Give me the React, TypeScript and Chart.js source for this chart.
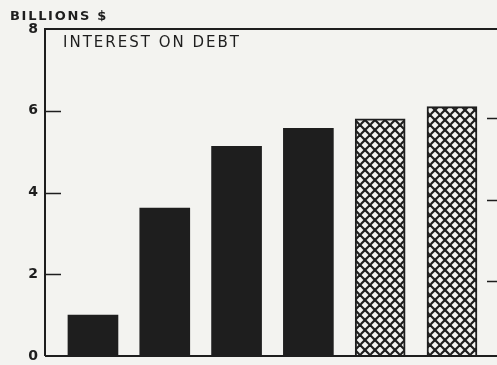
import React, { useEffect, useRef } from "react";
import { Chart, registerables } from "chart.js";

Chart.register(...registerables);

// Data
const positions = [0, 1, 2, 3, 4, 5];
const interest = [1.0, 3.62, 5.13, 5.57, 5.8, 6.1];
const projected = [false, false, false, false, true, true];
const yTicks = [0, 2, 4, 6, 8];
const innerTicks = [2, 4, 6];
const unitLabel = "BILLIONS $";
const titleText = "INTEREST ON DEBT";

const PAPER = "#f3f3f0";
const INK = "#1e1e1e";
const W = 497;
const H = 365;

function makeHatch(): CanvasPattern | string {
  const c = document.createElement("canvas");
  c.width = 10;
  c.height = 10;
  const g = c.getContext("2d");
  if (!g) return INK;
  g.fillStyle = PAPER;
  g.fillRect(0, 0, 10, 10);
  g.strokeStyle = INK;
  g.lineWidth = 2.2;
  for (const k of [-15, -5, 5, 15, 25]) {
    g.beginPath();
    g.moveTo(-10, k + 10);
    g.lineTo(20, k - 20);
    g.stroke();
    g.beginPath();
    g.moveTo(-10, -10 - k);
    g.lineTo(20, 20 - k);
    g.stroke();
  }
  const p = g.createPattern(c, "repeat");
  return p || INK;
}

const framePlugin = {
  id: "frame",
  afterDraw(chart: any) {
    const { ctx, chartArea } = chart;
    const y = chart.scales.y;
    const { left, right, top, bottom } = chartArea;
    ctx.save();
    ctx.strokeStyle = INK;
    ctx.lineWidth = 2;
    ctx.beginPath();
    ctx.moveTo(left, bottom);
    ctx.lineTo(left, top);
    ctx.lineTo(right, top);
    ctx.moveTo(left, bottom);
    ctx.lineTo(right, bottom);
    ctx.stroke();
    ctx.lineWidth = 1.6;
    for (const v of innerTicks) {
      const py = Math.round(y.getPixelForValue(v)) + 0.5;
      ctx.beginPath();
      ctx.moveTo(left, py);
      ctx.lineTo(left + 16, py);
      ctx.moveTo(right - 10, py + 7);
      ctx.lineTo(right, py + 7);
      ctx.stroke();
    }
    ctx.fillStyle = INK;
    ctx.textBaseline = "alphabetic";
    ctx.textAlign = "left";
    ctx.font = "bold 13px 'DejaVu Sans'";
    (ctx as any).letterSpacing = "1.7px";
    ctx.fillText(unitLabel, 10, 20);
    ctx.font = "15px 'DejaVu Sans'";
    (ctx as any).letterSpacing = "2px";
    ctx.fillText(titleText, left + 18, top + 18);
    ctx.restore();
  },
};

export default function App() {
  const ref = useRef<HTMLCanvasElement | null>(null);

  useEffect(() => {
    if (!ref.current) return;
    const hatch = makeHatch();
    const chart = new Chart(ref.current, {
      type: "bar",
      data: {
        datasets: [
          {
            data: positions.map((x, i) => ({ x, y: interest[i] })),
            backgroundColor: projected.map((p) => (p ? hatch : INK)),
            borderColor: INK,
            borderWidth: projected.map((p) => (p ? 2 : 0)),
            barThickness: 50,
          } as any,
        ],
      },
      options: {
        animation: false,
        responsive: false,
        devicePixelRatio: 1,
        layout: { padding: { top: 29, bottom: 9, left: 0, right: 0 } },
        plugins: { legend: { display: false }, tooltip: { enabled: false } },
        scales: {
          x: {
            type: "linear",
            min: -0.668,
            max: 5.627,
            offset: false,
            bounds: "ticks",
            display: false,
          },
          y: {
            min: 0,
            max: 8,
            afterBuildTicks: (s: any) => {
              s.ticks = yTicks.map((v) => ({ value: v }));
            },
            afterFit: (s: any) => {
              s.width = 45;
              s.paddingTop = 0;
              s.paddingBottom = 0;
            },
            ticks: {
              font: { family: "'DejaVu Sans'", size: 14, weight: "bold" },
              color: INK,
              padding: 7,
            },
            grid: { display: false, drawTicks: false },
            border: { display: false },
          },
        },
      } as any,
      plugins: [framePlugin],
    });
    return () => chart.destroy();
  }, []);

  return (
    <div
      style={{
        position: "fixed",
        left: 0,
        top: 0,
        width: W,
        height: H,
        background: PAPER,
        overflow: "hidden",
      }}
    >
      <canvas ref={ref} width={W} height={H} style={{ display: "block", width: W, height: H }} />
    </div>
  );
}
